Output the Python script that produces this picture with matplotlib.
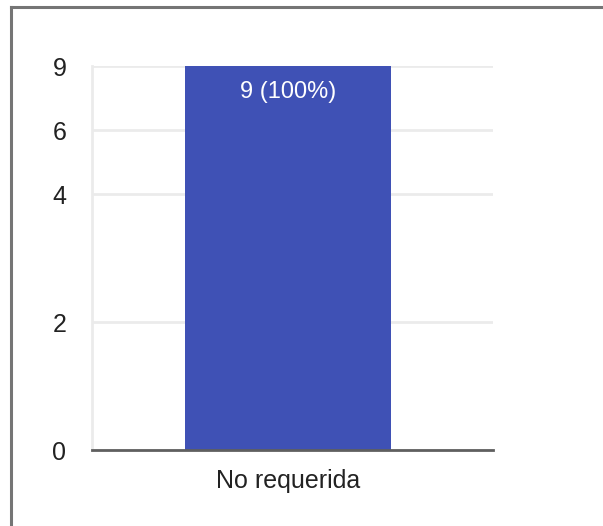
import matplotlib
matplotlib.use("Agg")
import matplotlib.pyplot as plt
from matplotlib.lines import Line2D

plt.rcParams['font.family'] = ['Liberation Sans', 'DejaVu Sans']

# Data
categories = ["No requerida"]
counts = [9]
percents = [100]
tick_positions = [0, 3, 6, 7.5, 9]
tick_labels = ["0", "2", "4", "6", "9"]

BAR_COLOR = "#3F51B5"
GRID_COLOR = "#EBEBEB"
TEXT_COLOR = "#222222"

fig = plt.figure(figsize=(6.03, 5.26), dpi=100)
ax = fig.add_axes([92 / 603, 76 / 526, 401 / 603, 384 / 526])

x = list(range(len(categories)))
bars = ax.bar(x, counts, width=206 / 401, color=BAR_COLOR, zorder=3)

for rect, c, p in zip(bars, counts, percents):
    ax.annotate(f"{c} ({p}%)", (rect.get_x() + rect.get_width() / 2, rect.get_height()),
                xytext=(0, -18.5), textcoords="offset points", ha="center", va="center",
                color="white", fontsize=17, zorder=4)

ax.set_ylim(0, 9)
ax.set_xlim(-196 / 401, 205 / 401)
ax.set_yticks(tick_positions)
ax.set_yticklabels(tick_labels)
ax.set_xticks(x)
ax.set_xticklabels(categories)
ax.tick_params(axis="y", length=0, pad=18.5, labelsize=18, labelcolor=TEXT_COLOR)
ax.tick_params(axis="x", length=0, pad=14, labelsize=18, labelcolor=TEXT_COLOR)

ax.grid(axis="y", color=GRID_COLOR, linewidth=2, zorder=0)
for side in ("top", "right"):
    ax.spines[side].set_visible(False)
ax.spines["left"].set_color(GRID_COLOR)
ax.spines["left"].set_linewidth(2)
ax.spines["bottom"].set_color("#5f5f5f")
ax.spines["bottom"].set_linewidth(2)
ax.spines["bottom"].set_zorder(5)

# Frame edges along the top and left of the figure
fig.add_artist(Line2D([10.5 / 603, 1], [1 - 7 / 526, 1 - 7 / 526],
                      transform=fig.transFigure, color="#757575", linewidth=2.2))
fig.add_artist(Line2D([10.5 / 603, 10.5 / 603], [0, 1 - 7 / 526],
                      transform=fig.transFigure, color="#757575", linewidth=2.2))

fig.savefig("out.png", dpi=100)
